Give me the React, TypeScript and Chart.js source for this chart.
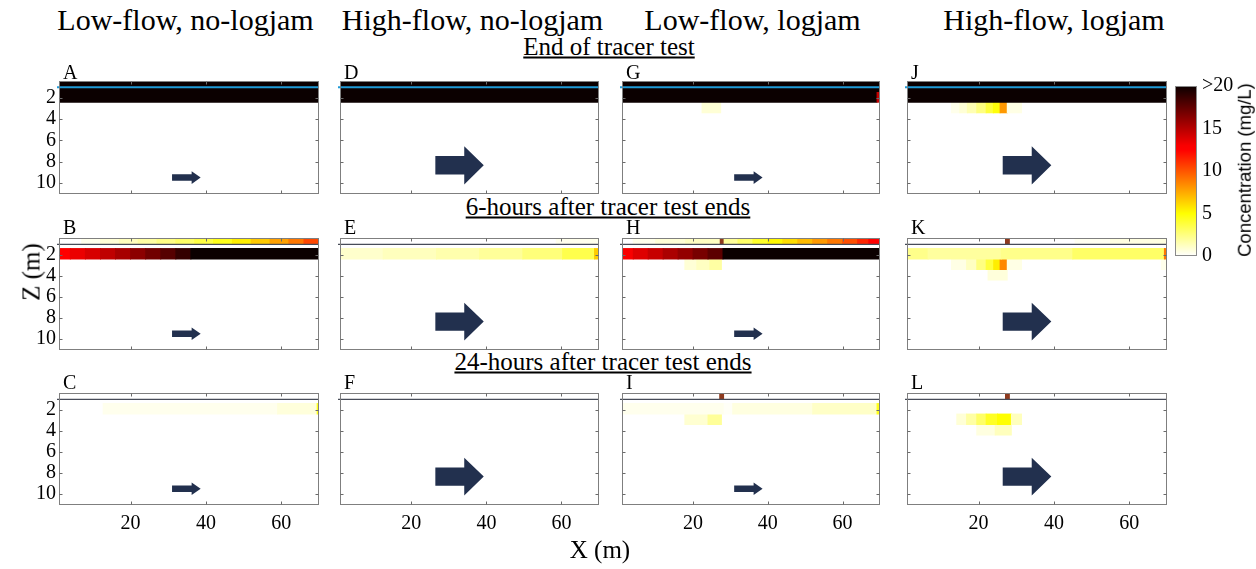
import React, { useEffect, useRef } from "react";
import { Chart, registerables } from "chart.js";

Chart.register(...registerables);

type Seg = [number, number, number]; // [x start (m), x end (m), concentration (mg/L)]

// ---------- axes ----------
const X_MIN = 1;
const X_MAX = 70;
const Z_MIN = 0.4;
const Z_MAX = 11.05;
const X_TICKS = [20, 40, 60];
const Z_TICKS = [2, 4, 6, 8, 10];
const WATER_Z = 1.0;

// model bands: surface water, transition, layer 1, layer 2, layer 3
const BAND_TOP = [0.4, 1.0, 1.4, 2.4, 3.4];
const BAND_BOTTOM = [1.0, 1.4, 2.4, 3.4, 4.4];

const LOGJAM_X: [number, number] = [27, 28.3];

const COLUMN_TITLES = ["Low-flow, no-logjam", "High-flow, no-logjam", "Low-flow, logjam", "High-flow, logjam"];
const ROW_TITLES = ["End of tracer test", "6-hours after tracer test ends", "24-hours after tracer test ends"];
const PANEL_LETTERS = [["A", "B", "C"], ["D", "E", "F"], ["G", "H", "I"], ["J", "K", "L"]];
const HIGH_FLOW = [false, true, false, true];
const HAS_LOGJAM = [false, false, true, true];

// flow arrows: [x tail, x head start, x tip, z centre, shaft half-height, head half-height]
const LOW_FLOW_ARROW = [31, 36.2, 38.6, 9.5, 0.31, 0.6];
const HIGH_FLOW_ARROW = [26.4, 34.1, 39.3, 8.35, 0.87, 1.8];

const CBAR_TICKS = [0, 5, 10, 15, 20];
const CBAR_LABELS = ["0", "5", "10", "15", ">20"];

// ---------- concentration segments ----------
// End of tracer test
const A_SURF: Seg[] = [[1, 70, 20]];
const A_GAP: Seg[] = [[1, 70, 20]];
const A_L1: Seg[] = [[1, 70, 20]];
const D_SURF: Seg[] = [[1, 70, 20]];
const D_GAP: Seg[] = [[1, 70, 20]];
const D_L1: Seg[] = [[1, 70, 20]];
const G_SURF: Seg[] = [[1, 70, 20]];
const G_GAP: Seg[] = [[1, 70, 20]];
const G_L1: Seg[] = [[1, 69.2, 20], [69.2, 70, 14.5]];
const G_L2: Seg[] = [[22.4, 27.4, 0.8]];
const J_SURF: Seg[] = [[1, 70, 20]];
const J_GAP: Seg[] = [[1, 70, 20]];
const J_L1: Seg[] = [[1, 70, 20]];
const J_L2: Seg[] = [[12.8, 15, 0.4], [15, 17, 0.8], [17, 19.5, 1.5], [19.5, 22, 2.5], [22, 23.9, 3.8], [23.9, 25.7, 4.8], [25.7, 27.6, 8], [27.6, 31.4, 0.5]];

// 6 hours after
const B_SURF: Seg[] = [[7, 12, 0.4], [12, 17, 0.8], [17, 22, 1.3], [22, 27, 1.8], [27, 32, 2.4], [32, 37, 3], [37, 42, 3.7], [42, 47, 4.5], [47, 52, 5.5], [52, 57, 6.6], [57, 62, 7.8], [62, 66, 9], [66, 70, 10.4]];
const B_L1: Seg[] = [[1, 4, 12.8], [4, 8, 13.4], [8, 12, 14], [12, 16, 14.7], [16, 20, 15.4], [20, 24, 16.2], [24, 28, 17], [28, 32, 17.8], [32, 36, 18.8], [36, 70, 20]];
const E_SURF: Seg[] = [[58.6, 70, 0.4]];
const E_L1: Seg[] = [[1, 12.5, 1], [12.5, 26.7, 1.3], [26.7, 38.2, 1.6], [38.2, 49.7, 2], [49.7, 60.3, 2.6], [60.3, 68.8, 3.5], [68.8, 70, 6.5]];
const H_SURF: Seg[] = [[4, 10, 0.4], [10, 18, 0.8], [18, 27, 1.2], [28.3, 32, 2], [32, 36, 3], [36, 40, 4.2], [40, 44, 5.2], [44, 48, 6], [48, 52, 7], [52, 56, 8], [56, 60, 9], [60, 64, 10.2], [64, 67, 11.4], [67, 70, 12.5]];
const H_L1: Seg[] = [[1, 4, 13], [4, 8, 13.8], [8, 12, 14.5], [12, 16, 15.3], [16, 20, 16], [20, 24, 16.8], [24, 28, 17.6], [28, 70, 20]];
const H_L2: Seg[] = [[17.8, 21, 0.8], [21, 24.5, 1.2], [24.5, 27.6, 1.8]];
const K_SURF: Seg[] = [[45.6, 55, 0.3], [55, 70, 0.6]];
const K_L1: Seg[] = [[1, 6.6, 2.3], [6.6, 26, 1.9], [26, 45, 2.3], [45, 69.3, 3], [69.3, 70, 9]];
const K_L2: Seg[] = [[12.8, 16.8, 0.5], [16.8, 19.5, 1.2], [19.5, 22, 2.5], [22, 24, 3.8], [24, 25.7, 5.5], [25.7, 27.6, 8.5], [27.6, 31.4, 0.5], [68.5, 70, 0.4]];
const K_L3: Seg[] = [[22.5, 27.6, 0.7]];

// 24 hours after
const C_L1: Seg[] = [[12.7, 59, 0.35], [59, 69.5, 0.7], [69.5, 70, 4.5]];
const I_L1: Seg[] = [[1, 28.3, 0.35], [28.3, 30.6, 0.15], [30.6, 52, 0.6], [52, 69.2, 1.1], [69.2, 70, 4.5]];
const I_L2: Seg[] = [[17.8, 24, 0.9], [24, 27.6, 2]];
const L_L2: Seg[] = [[14.2, 16.8, 0.8], [16.8, 19.5, 1.8], [19.5, 22, 3], [22, 25, 4.3], [25, 28.7, 5], [28.7, 31.4, 1.3]];
const L_L3: Seg[] = [[19.5, 24.4, 0.6], [24.4, 28.7, 1.3]];

const NONE: Seg[] = [];

// [column][row] -> bands [surface, transition, layer1, layer2, layer3]
const PANEL_BANDS: Seg[][][][] = [
  [
    [A_SURF, A_GAP, A_L1, NONE, NONE],
    [B_SURF, NONE, B_L1, NONE, NONE],
    [NONE, NONE, C_L1, NONE, NONE],
  ],
  [
    [D_SURF, D_GAP, D_L1, NONE, NONE],
    [E_SURF, NONE, E_L1, NONE, NONE],
    [NONE, NONE, NONE, NONE, NONE],
  ],
  [
    [G_SURF, G_GAP, G_L1, G_L2, NONE],
    [H_SURF, NONE, H_L1, H_L2, NONE],
    [NONE, NONE, I_L1, I_L2, NONE],
  ],
  [
    [J_SURF, J_GAP, J_L1, J_L2, NONE],
    [K_SURF, NONE, K_L1, K_L2, K_L3],
    [NONE, NONE, NONE, L_L2, L_L3],
  ],
];

// ---------- styling ----------
const SERIF = "'Liberation Serif', 'Times New Roman', serif";
const SANS = "'Liberation Sans', Arial, sans-serif";
const ARROW_COLOR = "#22304e";
const LOGJAM_COLOR = "#8e3a1e";

function concColor(v: number) {
  const t = Math.min(Math.max(v / 20, 0), 1);
  const s = 1 - t;
  const r = Math.min(1, s / 0.375 + 0.042);
  const g = Math.min(1, Math.max(0, (s - 0.375) / 0.375));
  const b = Math.min(1, Math.max(0, (s - 0.75) / 0.25));
  return `rgb(${Math.round(r * 255)},${Math.round(g * 255)},${Math.round(b * 255)})`;
}

const COL_LEFT = [59, 340, 622, 907];
const COL_W = [260, 259, 258, 260];
const ROW_TOP = [81, 238, 393];
const ROW_H = [113, 112, 112];
const ML = 52, MT = 18, MR = 6, MB = 44;
const TICK_FONT = { family: SERIF, size: 20 };

const panelDecor = {
  id: "panelDecor",
  afterDatasetsDraw(chart: any, _args: any, o: any) {
    const { ctx, chartArea: a, scales } = chart;
    const x = scales.x, y = scales.y;
    const px = (v: number) => x.getPixelForValue(v);
    const py = (v: number) => y.getPixelForValue(v);
    ctx.save();
    // arrow
    const [xt, xh, xp, zc, sh, hh] = o.arrow;
    ctx.fillStyle = ARROW_COLOR;
    ctx.beginPath();
    ctx.moveTo(px(xt), py(zc - sh));
    ctx.lineTo(px(xh), py(zc - sh));
    ctx.lineTo(px(xh), py(zc - hh));
    ctx.lineTo(px(xp), py(zc));
    ctx.lineTo(px(xh), py(zc + hh));
    ctx.lineTo(px(xh), py(zc + sh));
    ctx.lineTo(px(xt), py(zc + sh));
    ctx.closePath();
    ctx.fill();
    // water surface line
    const wl = py(WATER_Z);
    ctx.strokeStyle = o.lineColor;
    ctx.lineWidth = o.lineWidth;
    ctx.beginPath();
    ctx.moveTo(a.left - 2, wl);
    ctx.lineTo(a.right, wl);
    ctx.stroke();
    // frame
    const L = Math.round(a.left) + 0.5;
    const T = Math.round(a.top) + 0.5;
    const R = Math.round(a.right) - 0.5;
    const B = Math.round(a.bottom) - 0.5;
    ctx.strokeStyle = "#7f7f7f";
    ctx.lineWidth = 1;
    ctx.strokeRect(L, T, R - L, B - T);
    // inward ticks
    ctx.strokeStyle = "#6a6a6a";
    ctx.beginPath();
    for (const t of x.ticks) {
      const p = Math.round(px(t.value)) + 0.5;
      ctx.moveTo(p, B); ctx.lineTo(p, B - 3);
      ctx.moveTo(p, T); ctx.lineTo(p, T + 3);
    }
    for (const t of y.ticks) {
      const p = Math.round(py(t.value)) + 0.5;
      ctx.moveTo(L, p); ctx.lineTo(L + 3, p);
      ctx.moveTo(R, p); ctx.lineTo(R - 3, p);
    }
    ctx.stroke();
    ctx.restore();
  },
};

function Panel({ col, row }: { col: number; row: number }) {
  const ref = useRef<HTMLCanvasElement>(null);
  const w = COL_W[col] + ML + MR;
  const h = ROW_H[row] + MT + MB;
  useEffect(() => {
    const centers = BAND_TOP.map((t, i) => (t + BAND_BOTTOM[i]) / 2);
    const sorted = [...centers].sort((a, b) => a - b);
    let ruler = Infinity;
    for (let i = 1; i < sorted.length; i++) ruler = Math.min(ruler, sorted[i] - sorted[i - 1]);
    const bands = PANEL_BANDS[col][row];
    const datasets: any[] = [
      {
        data: centers.map((c) => ({ y: c, x: [X_MIN, X_MAX] })),
        backgroundColor: "rgba(0,0,0,0)",
        barPercentage: 1,
        categoryPercentage: 1,
        inflateAmount: 0,
      },
    ];
    bands.forEach((segs, i) => {
      if (!segs.length) return;
      datasets.push({
        data: segs.map((s) => ({ y: centers[i], x: [s[0], s[1]] })),
        backgroundColor: segs.map((s) => concColor(s[2])),
        barPercentage: (BAND_BOTTOM[i] - BAND_TOP[i]) / ruler,
        categoryPercentage: 1,
        inflateAmount: 0.45,
      });
    });
    if (HAS_LOGJAM[col]) {
      datasets.push({
        data: [{ y: centers[0], x: LOGJAM_X }],
        backgroundColor: LOGJAM_COLOR,
        barPercentage: (BAND_BOTTOM[0] - BAND_TOP[0]) / ruler,
        categoryPercentage: 1,
        inflateAmount: 0,
      });
    }
    const chart = new Chart(ref.current as HTMLCanvasElement, {
      type: "bar",
      data: { datasets },
      options: {
        indexAxis: "y",
        animation: false,
        responsive: false,
        devicePixelRatio: 1,
        layout: { padding: { left: 0, top: MT, right: MR, bottom: 0 } },
        datasets: { bar: { grouped: false, borderWidth: 0 } },
        plugins: {
          legend: { display: false },
          tooltip: { enabled: false },
          panelDecor: {
            arrow: HIGH_FLOW[col] ? HIGH_FLOW_ARROW : LOW_FLOW_ARROW,
            lineColor: row === 0 ? "#1f9ad6" : "#474c58",
            lineWidth: row === 0 ? 2 : 1.2,
          },
        } as any,
        scales: {
          x: {
            type: "linear",
            position: "bottom",
            min: X_MIN,
            max: X_MAX,
            offset: false,
            grid: { display: false, drawTicks: false },
            border: { display: false },
            ticks: { display: row === 2, font: TICK_FONT, color: "#000", padding: 7, maxRotation: 0, autoSkip: false },
            afterBuildTicks: (s: any) => { s.ticks = X_TICKS.map((v) => ({ value: v })); },
            afterFit: (s: any) => { s.height = MB; },
          },
          y: {
            type: "linear",
            position: "left",
            reverse: true,
            min: Z_MIN,
            max: Z_MAX,
            offset: false,
            grid: { display: false, drawTicks: false },
            border: { display: false },
            ticks: { display: col === 0, font: TICK_FONT, color: "#000", padding: 3, autoSkip: false },
            afterBuildTicks: (s: any) => { s.ticks = Z_TICKS.map((v) => ({ value: v })); },
            afterFit: (s: any) => { s.width = ML; },
          },
        } as any,
      } as any,
      plugins: [panelDecor as any],
    });
    return () => chart.destroy();
  }, [col, row]);
  return (
    <canvas
      ref={ref}
      width={w}
      height={h}
      style={{ position: "absolute", left: COL_LEFT[col] - ML, top: ROW_TOP[row] - MT, width: w, height: h }}
    />
  );
}

const cbarFrame = {
  id: "cbarFrame",
  afterDatasetsDraw(chart: any) {
    const { ctx, chartArea: a } = chart;
    ctx.save();
    ctx.strokeStyle = "#8a8a8a";
    ctx.lineWidth = 1;
    ctx.strokeRect(Math.round(a.left) + 0.5, Math.round(a.top) + 0.5, Math.round(a.width) - 1, Math.round(a.height) - 1);
    ctx.restore();
  },
};

function ColorBar() {
  const ref = useRef<HTMLCanvasElement>(null);
  const CB_LEFT = 1175, CB_TOP = 85, CB_W = 22, CB_H = 172;
  const PL = 2, PT = 16, AXW = 44;
  const w = PL + CB_W + AXW, h = PT + CB_H + PT;
  useEffect(() => {
    const lo = CBAR_TICKS[0];
    const hi = CBAR_TICKS[CBAR_TICKS.length - 1];
    const chart = new Chart(ref.current as HTMLCanvasElement, {
      type: "bar",
      data: {
        labels: ["c"],
        datasets: [
          {
            data: [[lo, hi]] as any,
            backgroundColor: (c: any) => {
              const ch = c.chart;
              if (!ch.chartArea) return "#fff";
              const y = ch.scales.y;
              const g = ch.ctx.createLinearGradient(0, y.getPixelForValue(lo), 0, y.getPixelForValue(hi));
              for (let i = 0; i <= 40; i++) g.addColorStop(i / 40, concColor(lo + ((hi - lo) * i) / 40));
              return g;
            },
            barPercentage: 1,
            categoryPercentage: 1,
            borderWidth: 0,
          },
        ],
      },
      options: {
        animation: false,
        responsive: false,
        devicePixelRatio: 1,
        layout: { padding: { left: PL, top: PT, bottom: PT, right: 0 } },
        plugins: { legend: { display: false }, tooltip: { enabled: false } },
        scales: {
          x: { display: false },
          y: {
            position: "right",
            min: lo,
            max: hi,
            grid: { display: false, drawTicks: false },
            border: { display: false },
            ticks: {
              font: TICK_FONT,
              color: "#000",
              padding: 5,
              autoSkip: false,
              callback: (_v: any, i: number) => CBAR_LABELS[i],
            },
            afterBuildTicks: (s: any) => { s.ticks = CBAR_TICKS.map((v) => ({ value: v })); },
            afterFit: (s: any) => { s.width = AXW; },
          },
        } as any,
      } as any,
      plugins: [cbarFrame as any],
    });
    return () => chart.destroy();
  }, []);
  return (
    <canvas
      ref={ref}
      width={w}
      height={h}
      style={{ position: "absolute", left: CB_LEFT - PL, top: CB_TOP - PT, width: w, height: h }}
    />
  );
}

function Txt(props: { x: number; y: number; size: number; text: string; rotate?: number; underline?: boolean; family?: string }) {
  const { x, y, size, text, rotate = 0, underline = false, family = SERIF } = props;
  return (
    <div
      style={{
        position: "absolute",
        left: x,
        top: y,
        transform: `translate(-50%, -50%) rotate(${rotate}deg)`,
        fontFamily: family,
        fontSize: size,
        lineHeight: 1,
        whiteSpace: "nowrap",
        textDecoration: underline ? "underline" : "none",
        color: "#000",
      }}
    >
      {text}
    </div>
  );
}

const TITLE_X = [185.5, 472.5, 752.5, 1054];
const ROW_TITLE_X = [609, 608, 603];
const ROW_TITLE_Y = [46, 206, 361];
const LETTER_BASE = [79, 234, 389];

export default function App() {
  const panels: any[] = [];
  for (let c = 0; c < 4; c++) for (let r = 0; r < 3; r++) panels.push(<Panel key={`${c}-${r}`} col={c} row={r} />);
  return (
    <div style={{ position: "fixed", left: 0, top: 0, width: 1256, height: 569, background: "#fff", overflow: "hidden" }}>
      {COLUMN_TITLES.map((t, i) => (
        <Txt key={t} x={TITLE_X[i]} y={20} size={30} text={t} />
      ))}
      {ROW_TITLES.map((t, i) => (
        <Txt key={t} x={ROW_TITLE_X[i]} y={ROW_TITLE_Y[i]} size={25} text={t} underline />
      ))}
      {panels}
      {PANEL_LETTERS.map((colL, c) =>
        colL.map((l, r) => (
          <div
            key={l}
            style={{
              position: "absolute",
              left: COL_LEFT[c] + 4,
              top: LETTER_BASE[r] - 16.75,
              fontFamily: SERIF,
              fontSize: 20,
              lineHeight: 1,
              color: "#000",
            }}
          >
            {l}
          </div>
        ))
      )}
      <Txt x={31} y={272} size={25} text="Z (m)" rotate={-90} />
      <Txt x={600} y={549} size={25} text="X (m)" />
      <ColorBar />
      <Txt x={1245} y={170} size={18.5} text="Concentration (mg/L)" rotate={-90} family={SANS} />
    </div>
  );
}
